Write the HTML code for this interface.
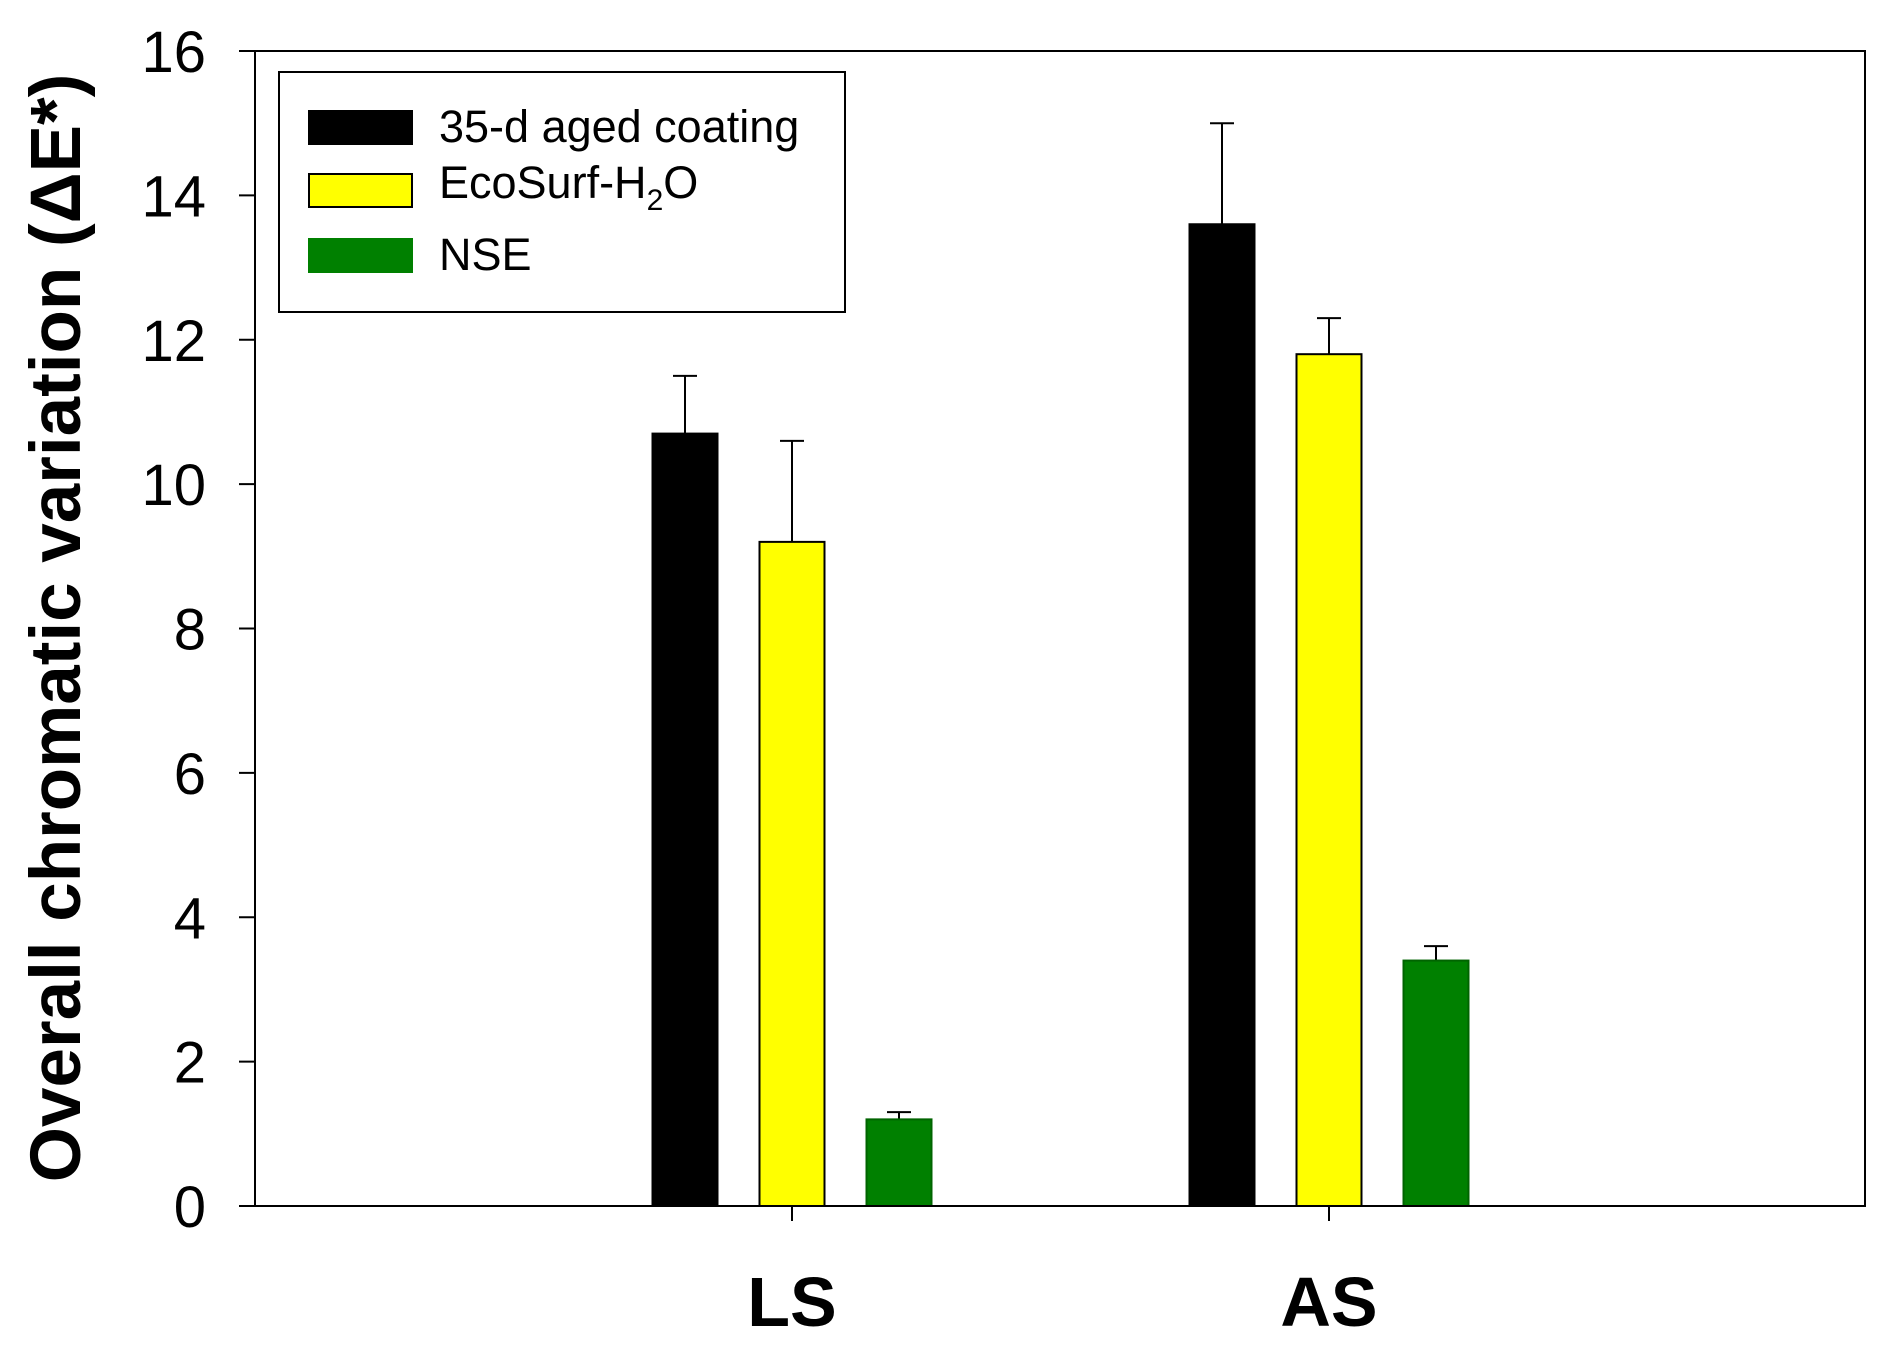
<!DOCTYPE html>
<html><head><meta charset="utf-8"><style>
body{margin:0;background:#fff}
svg text{font-family:"Liberation Sans",Arial,sans-serif}
</style></head><body>
<svg id="c" width="1899" height="1359" viewBox="0 0 1899 1359">
<g id="plot"></g>
</svg>
<script>
const categories=["LS","AS"];
const seriesNames=["35-d aged coating","EcoSurf-H2O","NSE"];
const aged=[10.7,13.6];
const agedErr=[0.8,1.4];
const ecosurf=[9.2,11.8];
const ecosurfErr=[1.4,0.5];
const nse=[1.2,3.4];
const nseErr=[0.1,0.2];
const yTicks=[0,2,4,6,8,10,12,14,16];

const NS="http://www.w3.org/2000/svg";
const g=document.getElementById('plot');
const L=255,R=1865,T=51,B=1206,ymax=16;
const y=v=>B-(v/ymax)*(B-T);
const xc=[792,1329];
const x=i=>xc[i];
function el(t,a,p){const e=document.createElementNS(NS,t);for(const k in a)e.setAttribute(k,a[k]);(p||g).appendChild(e);return e;}
const fills=["#000000","#ffff00","#008000"];
const vals=[aged,ecosurf,nse],errs=[agedErr,ecosurfErr,nseErr];
const bw=65,step=107;
vals.forEach((s,si)=>{s.forEach((v,ci)=>{
  const cx=x(ci)+(si-1)*step;
  const top=y(v),et=y(v+errs[si][ci]);
  const ln=el('line',{x1:cx,x2:cx,y1:top,y2:et,stroke:'#000','stroke-width':2});
  
  
  const cap=el('line',{x1:cx-12,x2:cx+12,y1:et,y2:et,stroke:'#000','stroke-width':2});
  
  
  const r=el('rect',{x:cx-bw/2,y:top,width:bw,height:B-top,fill:fills[si],stroke:si==2?'#006400':'#000','stroke-width':2});
  
  
});});
const fr=el('rect',{x:L,y:T,width:R-L,height:B-T,fill:'none',stroke:'#000','stroke-width':2});


yTicks.forEach(t=>{
  const tk=el('line',{x1:L-16,x2:L,y1:y(t),y2:y(t),stroke:'#000','stroke-width':2});
  
  
  const tx=el('text',{x:206,y:y(t)+21,'text-anchor':'end','font-size':58});
  tx.textContent=t;
  
  
});
categories.forEach((c,i)=>{
  const tk=el('line',{x1:x(i),x2:x(i),y1:B,y2:B+15,stroke:'#000','stroke-width':2});
  
  
  const tx=el('text',{x:x(i),y:1326,'text-anchor':'middle','font-size':70,'font-weight':'bold'});
  tx.textContent=c;
  
  
});
const yt=el('text',{x:0,y:0,transform:'translate(80,628) rotate(-90)','text-anchor':'middle','font-size':71,'font-weight':'bold'});
yt.textContent='Overall chromatic variation (ΔE*)';


const lg=el('rect',{x:279,y:72,width:566,height:240,fill:'#fff',stroke:'#000','stroke-width':2});


const ly=[127,190,255];
seriesNames.forEach((n,i)=>{
  const sw=el('rect',{x:309,y:ly[i]-16,width:103,height:33,fill:fills[i],stroke:i==2?'#008000':'#000','stroke-width':2});
  
  
  const tx=el('text',{x:439,y:ly[i]+(i==1?8:15),'font-size':45});
  if(i==1){tx.innerHTML='EcoSurf-H<tspan font-size="30" dy="12">2</tspan><tspan dy="-12">O</tspan>';}
  else tx.textContent=n;
  
  
});
</script>
</body></html>
